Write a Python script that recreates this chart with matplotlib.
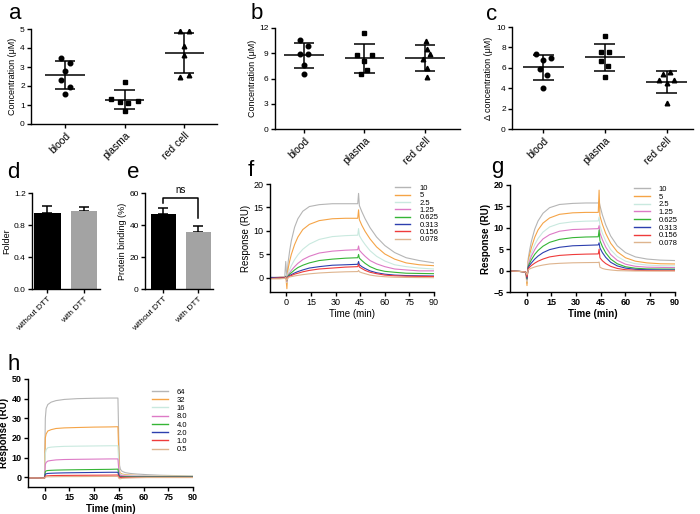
import numpy as np
import matplotlib
matplotlib.use("Agg")
import matplotlib.pyplot as plt

plt.rcParams['font.family'] = ['Liberation Sans', 'DejaVu Sans']

# ---------------- data: scatter panels (a, b, c) ----------------
groups = ["blood", "plasma", "red cell"]

a_blood = [3.5, 3.2, 2.81, 2.31, 1.97, 1.6]
a_plasma = [2.2, 1.3, 1.18, 1.13, 1.21, 0.7]
a_red = [4.87, 4.87, 4.08, 3.64, 2.5, 2.57]

b_blood = [10.6, 9.9, 8.95, 8.95, 7.6, 6.5]
b_plasma = [11.4, 8.75, 8.75, 8.1, 7.0, 6.5]
b_red = [10.4, 9.5, 8.95, 8.3, 7.3, 6.15]

c_blood = [7.33, 7.0, 6.78, 5.86, 5.26, 4.05]
c_plasma = [9.07, 7.55, 7.5, 6.7, 6.18, 5.13]
c_red = [5.39, 5.62, 4.77, 4.77, 4.48, 2.57]

# ---------------- data: bar panels (d, e) ----------------
dtt_labels = ["without DTT", "with DTT"]
d_mean = [0.954, 0.975]
d_err = [0.086, 0.045]
e_mean = [46.7, 35.8]
e_err = [4.1, 3.4]

# ---------------- data: sensorgrams (f, g, h) ----------------
f_labels = ["10", "5", "2.5", "1.25", "0.625", "0.313", "0.156", "0.078"]
h_labels = ["64", "32", "16", "8.0", "4.0", "2.0", "1.0", "0.5"]

t_fg = [-9, -4, -1, -0.4, 0.3, 1, 2, 3, 5, 7, 10, 14, 20, 28, 36, 43.5, 44, 44.5,
        46, 48, 51, 55, 60, 66, 73, 81, 90]

f_10 = [0.1, 0.2, 0.3, 3.5, -0.3, 3.2, 5.8, 7.9, 10.8, 12.6, 14.2, 15.2, 15.6, 15.8, 15.8, 15.8, 18.0, 15.4,
        14.1, 12.6, 10.7, 8.7, 6.9, 5.4, 4.3, 3.7, 3.2]
f_5 = [0.0, 0.1, 0.2, 0.5, -2.3, 1.9, 3.6, 5.0, 7.1, 8.7, 10.3, 11.4, 12.2, 12.6, 12.7, 12.7, 14.5, 12.4,
       11.2, 9.9, 8.3, 6.6, 5.1, 4.0, 3.2, 2.8, 2.6]
f_2_5 = [0.1, 0.1, 0.2, 0.8, -1.0, 1.0, 1.8, 2.6, 3.9, 4.9, 6.1, 7.2, 8.2, 8.8, 9.0, 9.1, 10.5, 9.0,
         8.1, 7.1, 5.8, 4.6, 3.6, 2.8, 2.4, 2.1, 1.9]
f_1_25 = [0.0, 0.1, 0.1, 0.4, -0.8, 0.6, 1.1, 1.6, 2.4, 3.1, 3.9, 4.6, 5.3, 5.7, 5.9, 6.0, 6.8, 5.9,
          5.3, 4.6, 3.7, 3.0, 2.4, 1.9, 1.7, 1.5, 1.5]
f_0_625 = [0.0, 0.0, 0.1, 0.3, -0.6, 0.4, 0.8, 1.1, 1.7, 2.2, 2.7, 3.2, 3.7, 4.0, 4.2, 4.3, 5.0, 4.2,
           3.7, 3.1, 2.4, 1.8, 1.4, 1.2, 1.0, 0.95, 0.9]
f_0_313 = [0.1, 0.0, 0.1, 0.2, -0.5, 0.25, 0.5, 0.7, 1.05, 1.35, 1.7, 2.1, 2.4, 2.7, 2.8, 2.9, 3.5, 2.8,
           2.4, 2.0, 1.5, 1.1, 0.8, 0.6, 0.5, 0.45, 0.4]
f_0_156 = [-0.1, 0.0, 0.0, 0.2, -0.4, 0.2, 0.35, 0.5, 0.8, 1.0, 1.3, 1.6, 1.9, 2.1, 2.3, 2.4, 2.9, 2.3,
           2.0, 1.6, 1.2, 0.9, 0.6, 0.45, 0.37, 0.33, 0.3]
f_0_078 = [-0.2, -0.2, -0.1, 0.1, -0.6, 0.1, 0.2, 0.27, 0.42, 0.54, 0.7, 0.87, 1.05, 1.2, 1.3, 1.35, 1.6, 1.3,
           1.1, 0.9, 0.6, 0.4, 0.25, 0.15, 0.1, 0.07, 0.05]

g_10 = [-0.1, -0.2, -0.3, -0.4, -3.0, 2.7, 5.0, 6.9, 9.7, 11.6, 13.4, 14.7, 15.45, 15.7, 15.8, 15.8, 16.2, 15.2,
        13.0, 10.7, 8.1, 5.8, 4.2, 3.2, 2.7, 2.45, 2.35]
g_5 = [-0.1, -0.2, -0.3, -0.4, -3.5, 2.1, 3.9, 5.4, 7.8, 9.5, 11.1, 12.3, 13.15, 13.5, 13.6, 13.6, 18.8, 12.8,
       10.8, 8.7, 6.4, 4.4, 3.0, 2.2, 1.8, 1.6, 1.55]
g_2_5 = [-0.1, -0.2, -0.3, -0.4, -2.5, 1.6, 3.0, 4.2, 6.1, 7.5, 9.0, 10.2, 11.0, 11.4, 11.55, 11.6, 12.5, 10.5,
         8.7, 6.9, 4.9, 3.3, 2.2, 1.6, 1.3, 1.15, 1.1]
g_1_25 = [-0.1, -0.2, -0.3, -0.4, -2.2, 1.3, 2.4, 3.4, 4.9, 6.1, 7.4, 8.4, 9.2, 9.6, 9.7, 9.8, 10.5, 8.8,
          7.2, 5.5, 3.75, 2.4, 1.5, 1.0, 0.8, 0.75, 0.7]
g_0_625 = [-0.1, -0.2, -0.3, -0.4, -2.0, 1.0, 1.8, 2.55, 3.8, 4.7, 5.7, 6.6, 7.3, 7.7, 7.85, 7.9, 9.5, 7.0,
           5.6, 4.15, 2.7, 1.6, 0.9, 0.55, 0.4, 0.37, 0.35]
g_0_313 = [-0.1, -0.2, -0.3, -0.4, -1.8, 0.7, 1.3, 1.8, 2.7, 3.4, 4.2, 4.9, 5.45, 5.8, 5.9, 6.0, 6.5, 5.3,
           4.2, 3.1, 1.95, 1.1, 0.58, 0.3, 0.2, 0.16, 0.15]
g_0_156 = [-0.1, -0.2, -0.3, -0.4, -1.5, 0.45, 0.85, 1.2, 1.75, 2.2, 2.7, 3.2, 3.55, 3.75, 3.85, 3.9, 5.0, 3.0,
           2.3, 1.65, 1.0, 0.5, 0.2, 0.08, 0.02, 0.0, 0.0]
g_0_078 = [-0.1, -0.2, -0.3, -0.4, -1.0, 0.2, 0.4, 0.57, 0.85, 1.07, 1.3, 1.55, 1.7, 1.82, 1.87, 1.9, 2.0, 0.8,
           0.5, 0.3, 0.15, 0.0, -0.05, -0.1, -0.1, -0.1, -0.1]

t_h = [-9, -4, -0.5, 0, 0.5, 1, 2, 4, 7, 12, 20, 30, 40, 44.5, 45, 45.5, 46, 47, 49, 52, 56, 62, 70, 80, 90]

h_64 = [-0.4, -0.4, -0.5, -0.5, 30, 35, 37, 38.2, 39, 39.6, 40.0, 40.2, 40.3, 40.3, 20, 6, 4, 3, 2.3, 1.9,
        1.6, 1.3, 1.0, 0.8, 0.6]
h_32 = [-0.4, -0.4, -0.5, -0.5, 20, 22, 23.5, 24.2, 24.8, 25.1, 25.3, 25.5, 25.6, 25.7, 12, 3, 2, 1.6, 1.3, 1.1,
        0.9, 0.7, 0.6, 0.5, 0.4]
h_16 = [-0.4, -0.4, -0.5, -0.5, 12, 14, 15.0, 15.3, 15.5, 15.7, 15.8, 15.9, 16.0, 16.0, 7, 2.5, 1.5, 1.2, 1.0,
        0.9, 0.8, 0.7, 0.6, 0.5, 0.5]
h_8 = [-0.4, -0.4, -0.5, -0.5, 6.5, 7.5, 8.2, 8.5, 8.8, 9.0, 9.1, 9.2, 9.3, 9.3, 4, 1.5, 1.0, 0.8, 0.6, 0.5,
       0.45, 0.4, 0.35, 0.3, 0.3]
h_4 = [-0.4, -0.4, -0.5, -0.5, 2.8, 3.2, 3.4, 3.5, 3.6, 3.7, 3.8, 3.9, 4.0, 4.1, 1.5, 0.6, 0.4, 0.3, 0.3, 0.25,
       0.2, 0.2, 0.2, 0.2, 0.2]
h_2 = [-0.4, -0.4, -0.5, -0.5, 1.5, 1.7, 1.9, 2.0, 2.1, 2.2, 2.3, 2.4, 2.5, 2.5, 0.8, 0.2, 0.1, 0.05, 0.0, 0.0,
       0.0, 0.0, 0.0, 0.0, 0.0]
h_1 = [-0.4, -0.4, -0.5, -0.5, 0.5, 0.6, 0.7, 0.8, 0.85, 0.9, 0.95, 1.0, 1.05, 1.1, 0.2, 0.0, -0.1, -0.1, -0.1,
       -0.1, -0.1, -0.1, -0.1, -0.1, -0.1]
h_0_5 = [-0.4, -0.4, -0.5, -0.5, 0.0, 0.1, 0.2, 0.2, 0.25, 0.3, 0.3, 0.35, 0.4, 0.4, -0.5, -0.8, -0.8, -0.6,
         -0.5, -0.4, -0.3, -0.2, -0.2, -0.2, -0.2]

# ---------------- styling ----------------
curve_colors = ["#b5b5b5", "#f5a447", "#c9e9df", "#dd7ac6", "#35b535", "#2d3fae", "#ef3b3b", "#deb48e"]
markers = ["o", "s", "^"]

# jitter of scatter points (x offsets within a group)
jit_a = [[-0.07, 0.08, 0, -0.07, 0.08, 0], [0, -0.22, -0.08, 0.06, 0.22, 0], [-0.07, 0.08, 0, 0, -0.07, 0.08]]
jit_b = [[-0.06, 0.07, -0.07, 0.07, 0, 0], [0, -0.12, 0.13, 0, 0.04, -0.05], [0.02, 0.03, 0.09, -0.04, 0.03, 0.03]]
jit_c = [[-0.12, 0.12, 0, -0.05, 0.06, 0], [0, -0.06, 0.06, -0.06, 0.05, 0], [-0.06, 0.06, -0.12, 0.12, 0, 0]]


def px_axes(fig, x0, y0, x1, y1):
    W, H = 700.0, 514.0
    return fig.add_axes([x0 / W, 1 - y1 / H, (x1 - x0) / W, (y1 - y0) / H])


def style(ax, bold=False, fs=6):
    for s in ["top", "right"]:
        ax.spines[s].set_visible(False)
    for s in ["left", "bottom"]:
        ax.spines[s].set_linewidth(1.0)
    ax.tick_params(width=1.0, length=3, labelsize=fs, pad=1.5)
    if bold:
        for lab in ax.get_xticklabels() + ax.get_yticklabels():
            lab.set_fontweight("bold")


def dot_panel(ax, data, jit, ylim, yticks, ylabel, xlim):
    for i, (vals, m, jj) in enumerate(zip(data, markers, jit)):
        vals = np.array(vals)
        ax.plot(i + np.array(jj), vals, m, color="black", ms=3.3, ls="none", zorder=3)
        mean, sd = vals.mean(), vals.std(ddof=1)
        ax.hlines(mean, i - 0.33, i + 0.33, color="black", lw=1.1)
        ax.vlines(i, mean - sd, mean + sd, color="black", lw=1.1)
        ax.hlines([mean - sd, mean + sd], i - 0.17, i + 0.17, color="black", lw=1.1)
    ax.set_xlim(*xlim)
    ax.set_ylim(*ylim)
    ax.set_yticks(yticks)
    ax.set_xticks(range(len(groups)))
    ax.set_xticklabels(groups, rotation=45, ha="right", rotation_mode="anchor", fontsize=7.5)
    ax.set_ylabel(ylabel, fontsize=6.5, labelpad=2)
    style(ax)
    ax.tick_params(axis="x", labelsize=7.5)


def bar_panel(ax, means, errs, ylim, yticks, ylabel, xlim):
    ax.bar([0, 1], means, width=0.72, color=["black", "#a3a3a3"], zorder=2)
    for i in range(2):
        ax.errorbar(i, means[i], yerr=[[0], [errs[i]]], color="black",
                    capsize=3.5, elinewidth=1.1, capthick=1.1, zorder=1)
    ax.set_xlim(*xlim)
    ax.set_ylim(*ylim)
    ax.set_yticks(yticks)
    ax.set_xticks([0, 1])
    ax.set_xticklabels(dtt_labels, rotation=45, ha="right", rotation_mode="anchor", fontsize=6)
    ax.set_ylabel(ylabel, fontsize=6.5, labelpad=2)
    style(ax)
    ax.tick_params(axis="x", labelsize=6)


def sensor_panel(ax, t, curves, labels, ylim, yticks, bold, anchor, spacing):
    for vals, c, lab in zip(curves, curve_colors, labels):
        ax.plot(t, vals, color=c, lw=0.8, label=lab)
    ax.set_xlim(-10, 90)
    ax.set_ylim(*ylim)
    ax.set_yticks(yticks)
    ax.set_xticks([0, 15, 30, 45, 60, 75, 90])
    w = "bold" if bold else "normal"
    ax.set_xlabel("Time (min)", fontsize=7, fontweight=w, labelpad=1)
    ax.set_ylabel("Response (RU)", fontsize=7, fontweight=w, labelpad=2)
    style(ax, bold=bold, fs=6.5)
    leg = ax.legend(loc="upper left", bbox_to_anchor=anchor, frameon=False, fontsize=5.5,
                    handlelength=2.0, handletextpad=1.2, labelspacing=spacing, borderpad=0)
    for line in leg.get_lines():
        line.set_linewidth(1.0)


fig = plt.figure(figsize=(7, 5.14), dpi=100)

# a
ax_a = px_axes(fig, 31, 29, 217, 124)
dot_panel(ax_a, [a_blood, a_plasma, a_red], jit_a, (0, 5), range(0, 6), "Concentration (\u03bcM)", (-0.57, 2.55))
# b
ax_b = px_axes(fig, 275, 28, 460, 129)
dot_panel(ax_b, [b_blood, b_plasma, b_red], jit_b, (0, 12), range(0, 13, 3), "Concentration (\u03bcM)", (-0.48, 2.58))
# c
ax_c = px_axes(fig, 512, 27, 693, 129)
dot_panel(ax_c, [c_blood, c_plasma, c_red], jit_c, (0, 10), range(0, 11, 2), "\u0394 concentration (\u03bcM)", (-0.51, 2.43))

# d
ax_d = px_axes(fig, 32, 193, 100, 289)
bar_panel(ax_d, d_mean, d_err, (0, 1.2), [0.0, 0.4, 0.8, 1.2], "Folder", (-0.42, 1.43))
ax_d.set_yticklabels(["0.0", "0.4", "0.8", "1.2"])
# e
ax_e = px_axes(fig, 145, 193, 213, 289)
bar_panel(ax_e, e_mean, e_err, (0, 60), [0, 20, 40, 60], "Protein binding (%)", (-0.52, 1.42))
ax_e.plot([0, 0, 1, 1], [53.6, 56.7, 56.7, 44.2], color="black", lw=1.1, clip_on=False)
ax_e.text(0.5, 58.5, "ns", ha="center", va="bottom", fontsize=7)

# f
ax_f = px_axes(fig, 270, 184, 434, 292)
sensor_panel(ax_f, t_fg, [f_10, f_5, f_2_5, f_1_25, f_0_625, f_0_313, f_0_156, f_0_078], f_labels,
             (-3, 20), [0, 5, 10, 15, 20], False, (0.74, 1.03), 0.0)
# g
ax_g = px_axes(fig, 510, 185, 675, 292)
sensor_panel(ax_g, t_fg, [g_10, g_5, g_2_5, g_1_25, g_0_625, g_0_313, g_0_156, g_0_078], f_labels,
             (-5, 20), [-5, 0, 5, 10, 15, 20], True, (0.73, 1.03), 0.05)
# h
ax_h = px_axes(fig, 28, 379, 193, 487)
sensor_panel(ax_h, t_h, [h_64, h_32, h_16, h_8, h_4, h_2, h_1, h_0_5], h_labels,
             (-5, 50), [0, 10, 20, 30, 40, 50], True, (0.73, 0.95), 0.12)

# panel letters (x centre, baseline y in pixels)
for lab, x, y in [("a", 15, 19), ("b", 257, 19), ("c", 492, 20), ("d", 13, 178), ("e", 133, 178),
                  ("f", 251, 176), ("g", 497, 173), ("h", 14, 370)]:
    fig.text(x / 700.0, 1 - y / 514.0, lab, fontsize=16, ha="center", va="baseline")

fig.savefig("out.png", dpi=100)
